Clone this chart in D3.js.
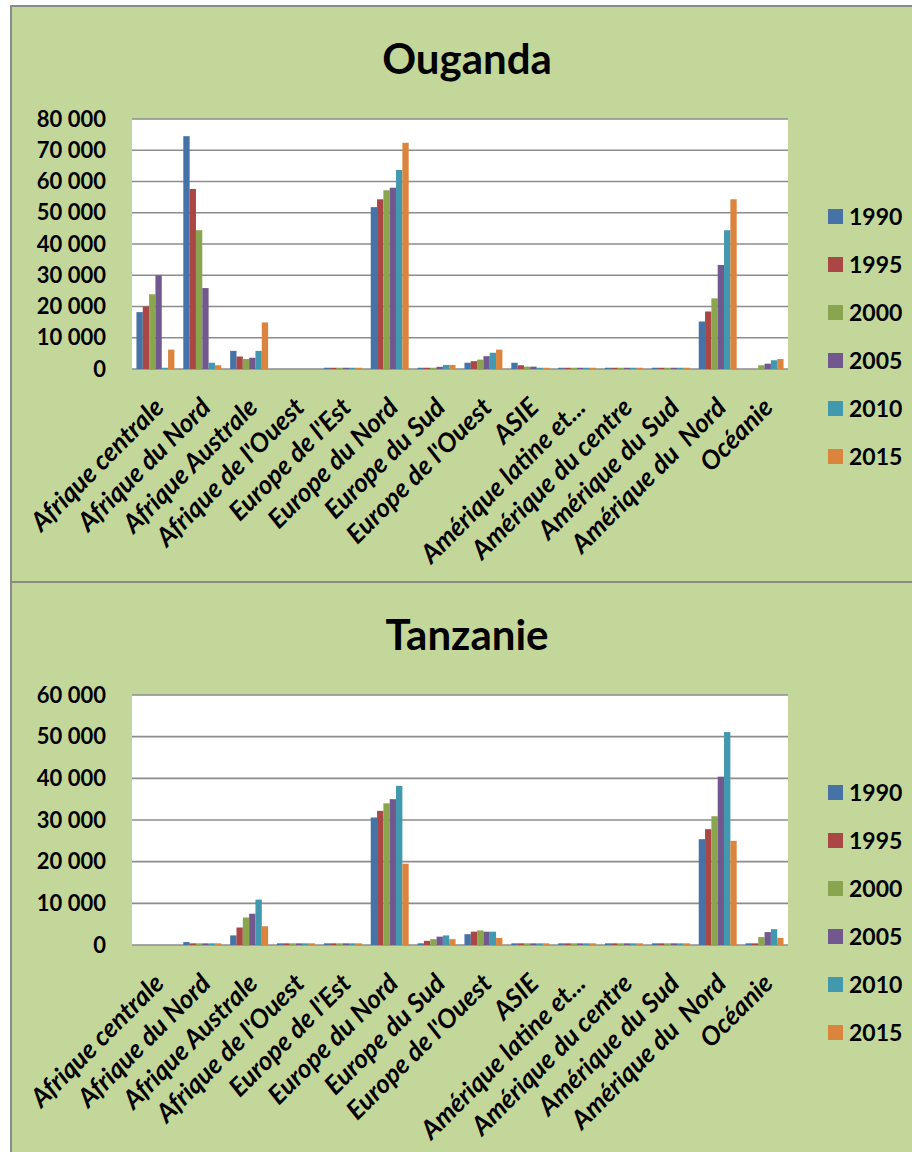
<!DOCTYPE html>
<html lang="fr">
<head>
    <meta charset="UTF-8">
    <title>Ouganda / Tanzanie</title>
    <script src="https://cdn.jsdelivr.net/npm/d3@7"></script>
    <style>
        body { margin: 0; background: #fff; }
        text { font-family: Lato, "Open Sans", sans-serif; fill: #000; white-space: pre; }
    </style>
</head>
<body>
<script>
    // régions de destination
    const regions = ['Afrique centrale', 'Afrique du Nord', 'Afrique Australe', "Afrique de l'Ouest",
        "Europe de l'Est", 'Europe du Nord', 'Europe du Sud', "Europe de l'Ouest", 'ASIE',
        'Amérique latine et...', 'Amérique du centre', 'Amérique du Sud', 'Amérique du  Nord', 'Océanie']
    const years = ['1990', '1995', '2000', '2005', '2010', '2015']
    const colors = ['#4572A7', '#AA4643', '#89A54E', '#71588F', '#4198AF', '#DB843D']

    // Ouganda : une ligne par année, une valeur par région
    const ouganda1990 = [18200, 74500, 5800, 0, 400, 51800, 400, 2000, 2000, 400, 400, 400, 15200, 0]
    const ouganda1995 = [20000, 57600, 4000, 0, 400, 54300, 400, 2500, 1200, 400, 400, 400, 18400, 0]
    const ouganda2000 = [23900, 44400, 3200, 0, 400, 57200, 400, 3000, 750, 400, 400, 400, 22600, 1200]
    const ouganda2005 = [30000, 25900, 3600, 0, 400, 58000, 700, 4100, 750, 400, 400, 400, 33300, 1700]
    const ouganda2010 = [400, 2000, 5800, 0, 400, 63700, 1300, 5200, 400, 400, 400, 400, 44400, 2800]
    const ouganda2015 = [6200, 1200, 14900, 0, 400, 72400, 1300, 6200, 400, 400, 400, 400, 54300, 3200]

    // Tanzanie
    const tanzanie1990 = [0, 700, 2300, 400, 400, 30600, 400, 2600, 400, 400, 400, 400, 25400, 400]
    const tanzanie1995 = [0, 400, 4200, 400, 400, 32200, 1000, 3200, 400, 400, 400, 400, 27800, 400]
    const tanzanie2000 = [0, 400, 6600, 400, 400, 34000, 1400, 3500, 400, 400, 400, 400, 30900, 1900]
    const tanzanie2005 = [0, 400, 7500, 400, 400, 35000, 2000, 3200, 400, 400, 400, 400, 40400, 3100]
    const tanzanie2010 = [0, 400, 10900, 400, 400, 38200, 2300, 3200, 400, 400, 400, 400, 51100, 3800]
    const tanzanie2015 = [0, 400, 4500, 400, 400, 19500, 1400, 1700, 400, 400, 400, 400, 25000, 1700]

    const ougandaSeries = [ouganda1990, ouganda1995, ouganda2000, ouganda2005, ouganda2010, ouganda2015]
    const tanzanieSeries = [tanzanie1990, tanzanie1995, tanzanie2000, tanzanie2005, tanzanie2010, tanzanie2015]

    const [width, height] = [912, 1152]
    const svg = d3.select('body').append('svg')
        .attr('width', width)
        .attr('height', height)

    const fmt = v => v === 0 ? '0' : d3.format(',')(v).replace(/,/g, ' ')

    const drawPanel = (top, panelH, title, series, yMax) => {
        const g = svg.append('g').attr('transform', `translate(0, ${top})`)
        g.append('rect')
            .attr('x', 11).attr('y', 0)
            .attr('width', width).attr('height', panelH)
            .attr('fill', '#C4D79B')
            .attr('stroke', '#8a8a8a')
            .attr('stroke-width', 2)

        g.append('text')
            .attr('x', 467).attr('y', 68)
            .attr('text-anchor', 'middle')
            .attr('font-size', 42)
            .attr('font-weight', 'bold')
            .text(title)

        const plot = {left: 132, right: 788, top: 113, bottom: 363}
        const x0 = d3.scaleBand().domain(regions).range([plot.left, plot.right])
        const bw = x0.bandwidth()
        const x1 = d3.scaleBand().domain(years).range([bw * 0.095, bw * 0.905])
        const y = d3.scaleLinear().domain([0, yMax]).range([plot.bottom, plot.top])

        g.append('rect')
            .attr('x', plot.left).attr('y', plot.top)
            .attr('width', plot.right - plot.left).attr('height', plot.bottom - plot.top)
            .attr('fill', '#fff')

        const ticks = d3.range(0, yMax + 1, 10000)
        g.append('g').selectAll('line').data(ticks).enter().append('line')
            .attr('x1', plot.left).attr('x2', plot.right)
            .attr('y1', d => y(d)).attr('y2', d => y(d))
            .attr('stroke', '#8c8c8c')
            .attr('stroke-width', 1.6)

        g.append('g').selectAll('text').data(ticks).enter().append('text')
            .attr('x', 106).attr('y', d => y(d))
            .attr('dy', '0.35em')
            .attr('text-anchor', 'end')
            .attr('font-size', 22)
            .attr('font-weight', 'bold')
            .text(fmt)

        // barres groupées
        const groups = g.append('g').selectAll('g').data(regions).enter().append('g')
            .attr('transform', d => `translate(${x0(d)}, 0)`)
        groups.selectAll('rect')
            .data((d, i) => series.map((s, k) => ({year: years[k], value: s[i], k})))
            .enter().append('rect')
            .attr('x', d => x1(d.year))
            .attr('width', x1.bandwidth())
            .attr('y', d => y(d.value))
            .attr('height', d => y(0) - y(d.value))
            .attr('fill', d => colors[d.k])

        // étiquettes inclinées
        g.append('g').selectAll('text').data(regions).enter().append('text')
            .attr('transform', d => `translate(${x0(d) + bw / 2 + 10}, ${plot.bottom + 40}) rotate(-45)`)
            .attr('text-anchor', 'end')
            .attr('font-size', 26)
            .attr('font-weight', 'bold')
            .attr('font-style', 'italic')
            .text(d => d)

        // légende
        const legend = g.append('g').selectAll('g').data(years).enter().append('g')
            .attr('transform', (d, i) => `translate(828, ${203 + i * 48})`)
        legend.append('rect')
            .attr('width', 15).attr('height', 15)
            .attr('fill', (d, i) => colors[i])
        legend.append('text')
            .attr('x', 21).attr('y', 8)
            .attr('dy', '0.35em')
            .attr('font-size', 23)
            .attr('font-weight', 'bold')
            .text(d => d)
    }

    drawPanel(6, 576, 'Ouganda', ougandaSeries, 80000)
    drawPanel(582, 590, 'Tanzanie', tanzanieSeries, 60000)
</script>
</body>
</html>
